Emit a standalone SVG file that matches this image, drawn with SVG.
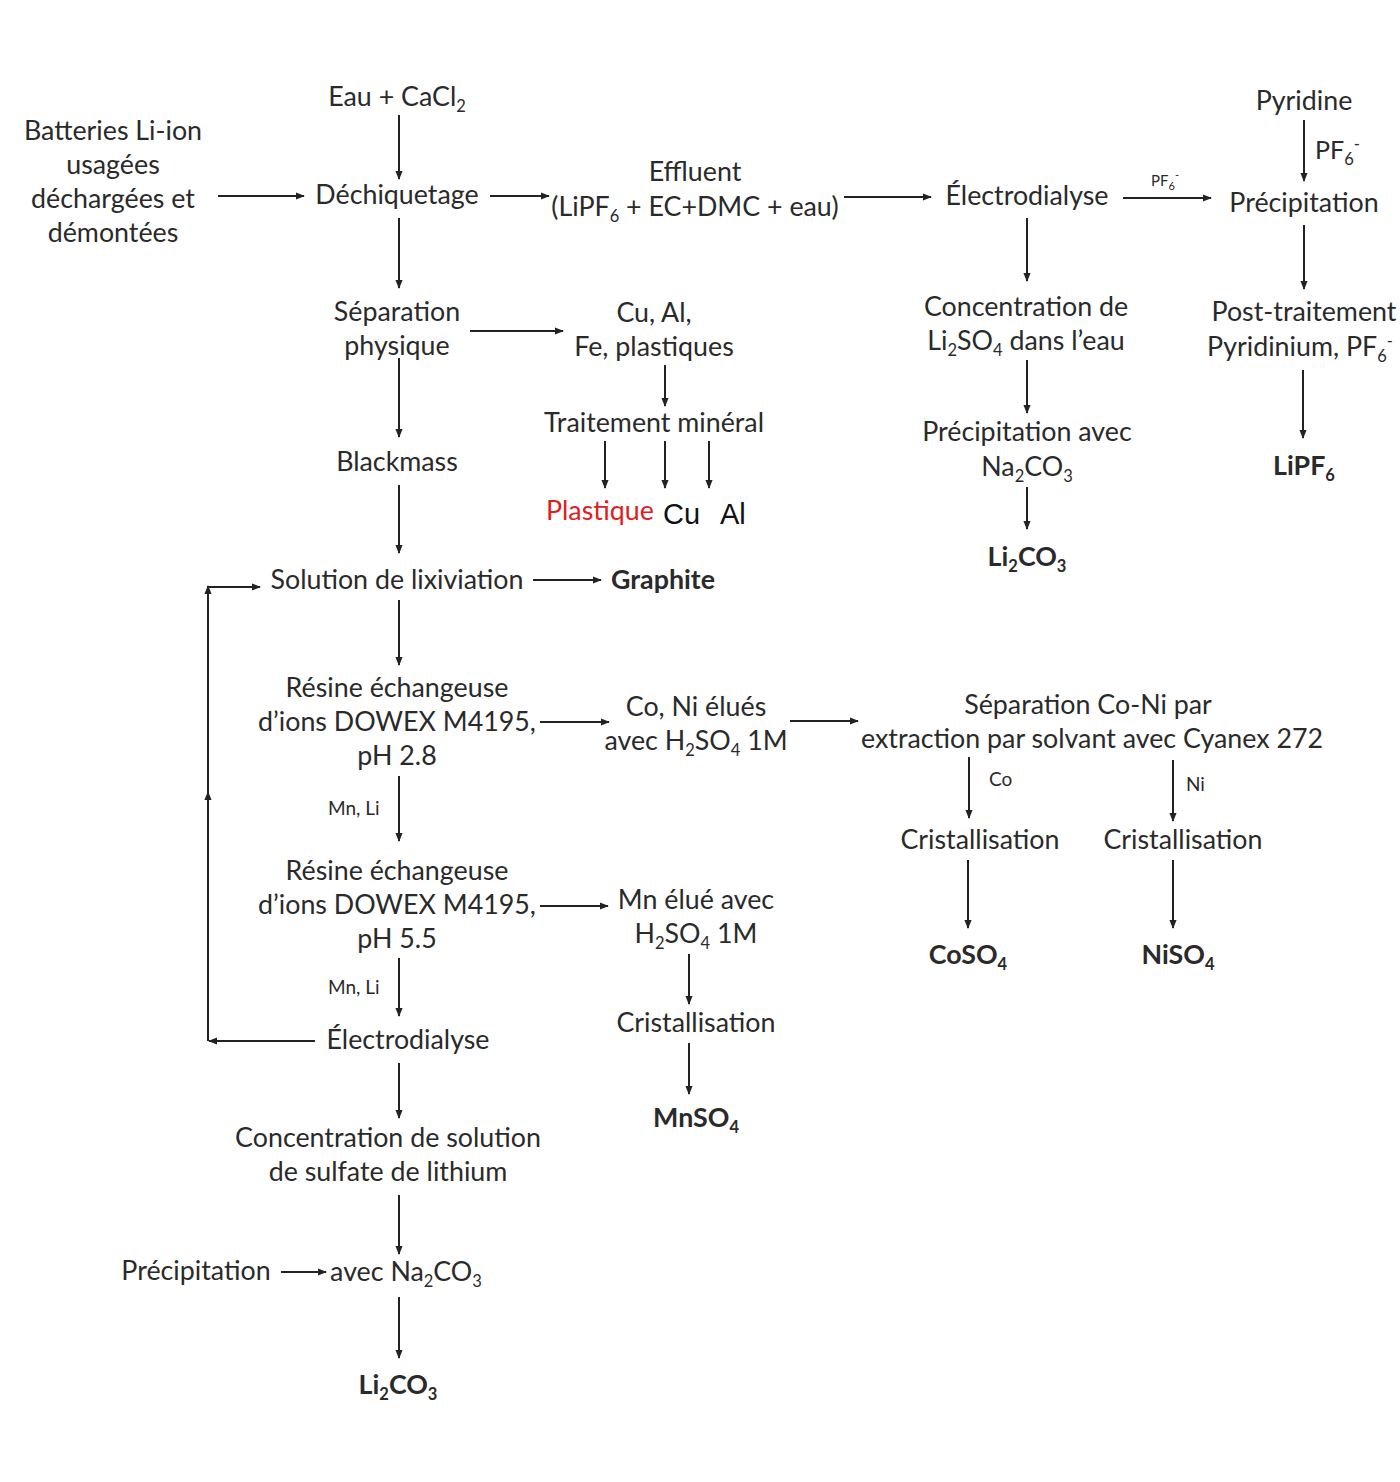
<svg xmlns="http://www.w3.org/2000/svg" width="1400" height="1482" viewBox="0 0 1400 1482">
<style>
text{font-family:Lato,"Open Sans","Liberation Sans",sans-serif;font-size:26.8px;fill:#2a2a2a;text-anchor:middle}
.b{font-weight:bold}
.s{font-size:16.5px}
.lab{font-size:19px;text-anchor:start}
.red{fill:#e02020;text-anchor:start}
.ar{font-family:"Liberation Sans",Arial,sans-serif;font-size:29px;fill:#111;text-anchor:start}
.c line{stroke:#222;stroke-width:2;fill:none}
.a{marker-end:url(#ah)}
</style>
<defs>
<marker id="ah" viewBox="0 0 10 10" refX="9" refY="5" markerWidth="9" markerHeight="9" markerUnits="userSpaceOnUse" orient="auto">
<path d="M0,1 L10,5 L0,9 z" fill="#222"/>
</marker>
</defs>
<rect width="1400" height="1482" fill="#fff"/>

<g class="c" id="connectors">
<line class="a" x1="399" y1="115" x2="399" y2="179"/>
<line class="a" x1="218" y1="196" x2="304" y2="196"/>
<line class="a" x1="490" y1="196" x2="549" y2="196"/>
<line class="a" x1="844" y1="197" x2="931" y2="197"/>
<line class="a" x1="1123" y1="198" x2="1211" y2="198"/>
<line class="a" x1="1304" y1="120" x2="1304" y2="181"/>
<line class="a" x1="1304" y1="225" x2="1304" y2="289"/>
<line class="a" x1="1303" y1="370" x2="1303" y2="438"/>
<line class="a" x1="1027" y1="218" x2="1027" y2="281"/>
<line class="a" x1="1027" y1="360" x2="1027" y2="413"/>
<line class="a" x1="1027" y1="487" x2="1027" y2="529"/>
<line class="a" x1="399" y1="218" x2="399" y2="288"/>
<line class="a" x1="470" y1="331" x2="563" y2="331"/>
<line class="a" x1="665" y1="365" x2="665" y2="406"/>
<line class="a" x1="605" y1="441" x2="605" y2="488"/>
<line class="a" x1="665" y1="441" x2="665" y2="488"/>
<line class="a" x1="709" y1="441" x2="709" y2="488"/>
<line class="a" x1="399" y1="358" x2="399" y2="437"/>
<line class="a" x1="399" y1="485" x2="399" y2="553"/>
<line class="a" x1="533" y1="580" x2="601" y2="580"/>
<line class="a" x1="399" y1="600" x2="399" y2="665"/>
<line class="a" x1="540" y1="722" x2="609" y2="722"/>
<line class="a" x1="790" y1="721" x2="858" y2="721"/>
<line class="a" x1="969" y1="757" x2="969" y2="818"/>
<line class="a" x1="1173" y1="760" x2="1173" y2="821"/>
<line class="a" x1="968" y1="860" x2="968" y2="928"/>
<line class="a" x1="1173" y1="860" x2="1173" y2="928"/>
<line class="a" x1="399" y1="776" x2="399" y2="841"/>
<line class="a" x1="540" y1="906" x2="608" y2="906"/>
<line class="a" x1="689" y1="954" x2="689" y2="1004"/>
<line class="a" x1="689" y1="1043" x2="689" y2="1094"/>
<line class="a" x1="399" y1="958" x2="399" y2="1016"/>
<line class="a" x1="315" y1="1041" x2="209" y2="1041"/>
<line class="a" x1="208" y1="1041" x2="208" y2="792"/>
<line class="a" x1="208" y1="795" x2="208" y2="586"/>
<line class="a" x1="207" y1="587" x2="260" y2="587"/>
<line class="a" x1="399" y1="1063" x2="399" y2="1118"/>
<line class="a" x1="399" y1="1195" x2="399" y2="1254"/>
<line class="a" x1="281" y1="1272" x2="326" y2="1272"/>
<line class="a" x1="399" y1="1297" x2="399" y2="1358"/>
</g>

<g id="n-batteries"><text x="113" y="140">Batteries Li-ion</text><text x="113" y="174">usagées</text><text x="113" y="208">déchargées et</text><text x="113" y="242">démontées</text></g>
<g id="n-eau"><text x="397" y="106">Eau + CaCl<tspan class="s" dy="6">2</tspan></text></g>
<g id="n-dechiquetage"><text x="397" y="204">Déchiquetage</text></g>
<g id="n-effluent"><text x="695" y="181">Effluent</text><text x="695" y="216">(LiPF<tspan class="s" dy="6">6</tspan><tspan dy="-6"> + EC+DMC + eau)</tspan></text></g>
<g id="n-electro1"><text x="1027" y="205">Électrodialyse</text></g>
<g id="l-pf6a"><text x="1165" y="186" style="font-size:15px">PF<tspan style="font-size:11px" dy="4">6</tspan><tspan style="font-size:11px" dy="-11">-</tspan></text></g>
<g id="n-pyridine"><text x="1304" y="110">Pyridine</text></g>
<g id="l-pf6b"><text x="1315" y="159" style="text-anchor:start;font-size:25px">PF<tspan class="s" dy="6">6</tspan><tspan class="s" dy="-15">-</tspan></text></g>
<g id="n-precip1"><text x="1304" y="212">Précipitation</text></g>
<g id="n-post"><text x="1304" y="321">Post-traitement</text><text x="1300" y="356">Pyridinium, PF<tspan class="s" dy="6">6</tspan><tspan class="s" dy="-15">-</tspan></text></g>
<g id="n-lipf6"><text class="b" x="1304" y="475">LiPF<tspan class="s" dy="6">6</tspan></text></g>
<g id="n-conc1"><text x="1026" y="316">Concentration de</text><text x="1026" y="350">Li<tspan class="s" dy="6">2</tspan><tspan dy="-6">SO</tspan><tspan class="s" dy="6">4</tspan><tspan dy="-6"> dans l’eau</tspan></text></g>
<g id="n-precip2"><text x="1027" y="441">Précipitation avec</text><text x="1027" y="476">Na<tspan class="s" dy="6">2</tspan><tspan dy="-6">CO</tspan><tspan class="s" dy="6">3</tspan></text></g>
<g id="n-li2co3a"><text class="b" x="1027" y="566">Li<tspan class="s" dy="6">2</tspan><tspan dy="-6">CO</tspan><tspan class="s" dy="6">3</tspan></text></g>
<g id="n-separation"><text x="397" y="321">Séparation</text><text x="397" y="355">physique</text></g>
<g id="n-cual"><text x="654" y="322">Cu, Al,</text><text x="654" y="356">Fe, plastiques</text></g>
<g id="n-traitement"><text x="654" y="432">Traitement minéral</text></g>
<g id="n-plastique"><text class="red" x="546" y="520">Plastique</text></g>
<g id="n-cu"><text class="ar" x="663" y="524">Cu</text></g>
<g id="n-al"><text class="ar" x="720" y="524">Al</text></g>
<g id="n-blackmass"><text x="397" y="471">Blackmass</text></g>
<g id="n-solution"><text x="397" y="589">Solution de lixiviation</text></g>
<g id="n-graphite"><text class="b" x="663" y="589">Graphite</text></g>
<g id="n-resine1"><text x="397" y="697">Résine échangeuse</text><text x="397" y="731">d’ions DOWEX M4195,</text><text x="397" y="765">pH 2.8</text></g>
<g id="n-coni"><text x="696" y="716">Co, Ni élués</text><text x="696" y="750">avec H<tspan class="s" dy="6">2</tspan><tspan dy="-6">SO</tspan><tspan class="s" dy="6">4</tspan><tspan dy="-6"> 1M</tspan></text></g>
<g id="n-sepconi"><text x="1088" y="714">Séparation Co-Ni par</text><text x="1092" y="748">extraction par solvant avec Cyanex 272</text></g>
<g id="l-co"><text class="lab" x="989" y="786">Co</text></g>
<g id="l-ni"><text class="lab" x="1186" y="791">Ni</text></g>
<g id="n-crist-co"><text x="980" y="849">Cristallisation</text></g>
<g id="n-crist-ni"><text x="1183" y="849">Cristallisation</text></g>
<g id="n-coso4"><text class="b" x="968" y="964">CoSO<tspan class="s" dy="6">4</tspan></text></g>
<g id="n-niso4"><text class="b" x="1178" y="964">NiSO<tspan class="s" dy="6">4</tspan></text></g>
<g id="l-mnli1"><text class="lab" x="328" y="815">Mn, Li</text></g>
<g id="n-resine2"><text x="397" y="880">Résine échangeuse</text><text x="397" y="914">d’ions DOWEX M4195,</text><text x="397" y="948">pH 5.5</text></g>
<g id="n-mnelue"><text x="696" y="909">Mn élué avec</text><text x="696" y="943">H<tspan class="s" dy="6">2</tspan><tspan dy="-6">SO</tspan><tspan class="s" dy="6">4</tspan><tspan dy="-6"> 1M</tspan></text></g>
<g id="n-crist-mn"><text x="696" y="1032">Cristallisation</text></g>
<g id="n-mnso4"><text class="b" x="696" y="1127">MnSO<tspan class="s" dy="6">4</tspan></text></g>
<g id="l-mnli2"><text class="lab" x="328" y="994">Mn, Li</text></g>
<g id="n-electro2"><text x="408" y="1049">Électrodialyse</text></g>
<g id="n-conc2"><text x="388" y="1147">Concentration de solution</text><text x="388" y="1181">de sulfate de lithium</text></g>
<g id="n-precip3"><text x="196" y="1280">Précipitation</text></g>
<g id="n-avec"><text x="406" y="1281">avec Na<tspan class="s" dy="6">2</tspan><tspan dy="-6">CO</tspan><tspan class="s" dy="6">3</tspan></text></g>
<g id="n-li2co3b"><text class="b" x="398" y="1394">Li<tspan class="s" dy="6">2</tspan><tspan dy="-6">CO</tspan><tspan class="s" dy="6">3</tspan></text></g>
</svg>
